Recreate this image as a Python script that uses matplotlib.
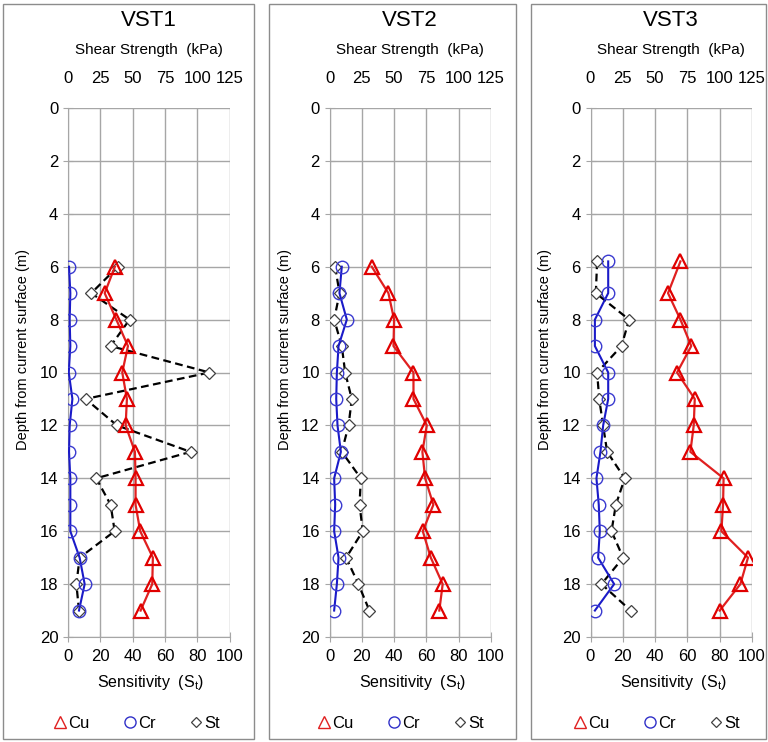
import matplotlib
matplotlib.use("Agg")
import matplotlib.pyplot as plt
from matplotlib.lines import Line2D
from matplotlib.patches import Rectangle

plt.rcParams['font.family'] = ['Liberation Sans', 'DejaVu Sans']
plt.rcParams['mathtext.fontset'] = 'custom'
plt.rcParams['mathtext.rm'] = 'Liberation Sans'
plt.rcParams['mathtext.it'] = 'Liberation Sans'

# Daten: Tiefe (m), Cu und Cr in kPa, St dimensionslos
titles = ["VST1", "VST2", "VST3"]

depth_1 = [6, 7, 8, 9, 10, 11, 12, 13, 14, 15, 16, 17, 18, 19]
cu_1 = [36.3, 28.4, 37.4, 46.4, 42.0, 45.6, 44.6, 51.8, 52.3, 52.3, 55.9, 65.7, 65.2, 56.2]
cr_1 = [0.8, 1.8, 1.3, 1.8, 0.6, 3.4, 1.3, 0.8, 1.8, 1.8, 1.8, 9.0, 12.9, 8.5]
st_1 = [30.9, 14.4, 38.1, 26.4, 87.6, 10.9, 30.3, 75.9, 17.5, 26.4, 28.9, 7.2, 5.2, 6.8]

depth_2 = [6, 7, 8, 9, 10, 11, 12, 13, 14, 15, 16, 17, 18, 19]
cu_2 = [32.7, 45.6, 50.0, 49.5, 65.0, 65.0, 75.3, 71.9, 74.0, 80.4, 72.2, 78.4, 87.6, 85.0]
cr_2 = [9.5, 7.7, 13.4, 7.0, 5.7, 5.2, 6.2, 8.8, 3.6, 4.4, 3.6, 7.0, 5.7, 3.6]
st_2 = [3.5, 6.2, 2.9, 7.6, 9.7, 13.8, 11.8, 7.6, 19.4, 18.6, 20.6, 10.3, 17.9, 24.7]

depth_3 = [5.8, 7, 8, 9, 10, 11, 12, 13, 14, 15, 16, 17, 18, 19]
cu_3 = [69.6, 60.0, 69.6, 78.0, 67.0, 80.7, 79.9, 77.3, 103.0, 102.6, 101.3, 121.9, 116.0, 100.0]
cr_3 = [13.7, 13.7, 3.4, 3.4, 13.7, 13.7, 9.8, 7.7, 4.6, 6.4, 7.2, 5.9, 18.3, 3.4]
st_3 = [4.1, 3.3, 23.9, 19.2, 4.1, 5.4, 7.8, 10.3, 21.2, 15.7, 13.0, 20.2, 6.8, 24.9]

depths = [depth_1, depth_2, depth_3]
cus = [cu_1, cu_2, cu_3]
crs = [cr_1, cr_2, cr_3]
sts = [st_1, st_2, st_3]

st_ticks = [0, 20, 40, 60, 80, 100]
kpa_ticks = [0, 25, 50, 75, 100, 125]
depth_ticks = list(range(0, 21, 2))

W, H = 768, 742
fig = plt.figure(figsize=(W / 100, H / 100), dpi=100)

ax_left = [68, 329.5, 590.5]
ax_w = 161.5
ax_top, ax_bot = 108, 637
frames = [(3, 254), (269, 516), (531, 766)]

grid_c = "#a6a6a6"


def px(x, y):
    return x / W, (H - y) / H


for i in range(3):
    # Rahmen um jedes Diagramm
    fx0, fx1 = frames[i]
    fig.patches.append(Rectangle((fx0 / W, 3 / H), (fx1 - fx0) / W, (738 - 3) / H,
                                 transform=fig.transFigure, fill=False,
                                 edgecolor="#8c8c8c", lw=1.0))

    ax = fig.add_axes([ax_left[i] / W, (H - ax_bot) / H, ax_w / W, (ax_bot - ax_top) / H])
    ax.set_xlim(0, 100)
    ax.set_ylim(20, 0)
    ax.set_xticks(st_ticks)
    ax.set_yticks(depth_ticks)
    ax.grid(True, color=grid_c, lw=1.0)
    ax.set_axisbelow(True)
    for s in ax.spines.values():
        s.set_visible(False)
    ax.spines['left'].set_visible(True)
    ax.spines['left'].set_color(grid_c)
    ax.spines['bottom'].set_visible(True)
    ax.spines['bottom'].set_color(grid_c)
    ax.tick_params(axis='both', labelsize=12, colors=grid_c, labelcolor='black',
                   direction='inout', length=7)
    ax.tick_params(axis='x', pad=5)

    ax.plot(sts[i], depths[i], color="black", ls=(0, (3.5, 2)), lw=1.6,
            marker="D", ms=6.5, mfc="white", mec="#404040", mew=0.9, zorder=3)

    ax2 = ax.twiny()
    ax2.set_xlim(0, 125)
    ax2.set_ylim(20, 0)
    ax2.set_xticks(kpa_ticks)
    for s in ax2.spines.values():
        s.set_visible(False)
    ax2.tick_params(axis='x', labelsize=12, length=0, pad=16)

    ax2.plot(crs[i], depths[i], color="#1a1ac8", lw=1.5, marker="o", ms=9,
             mfc="none", mec="#3a3ad0", mew=1.0, zorder=4)
    ax2.plot(cus[i], depths[i], color="#e02020", lw=1.6, marker="^", ms=10,
             mfc="none", mec="#e00000", mew=1.6, zorder=5)

    cxp = ax_left[i] + ax_w / 2
    fig.text(*px(cxp, 20), titles[i], fontsize=16, ha="center", va="center")
    fig.text(*px(cxp, 50), "Shear Strength  (kPa)", fontsize=11, ha="center", va="center")
    fig.text(*px(cxp + 2, 683), "Sensitivity  (S$_{\\mathregular{t}}$)", fontsize=11.5,
             ha="center", va="center")
    fig.text(*px(ax_left[i] - 45, 350), "Depth from current surface (m)", fontsize=10.5,
             ha="center", va="center", rotation=90)

    handles = [
        Line2D([], [], ls="none", marker="^", ms=8, mfc="none", mec="#e02020", mew=1.0),
        Line2D([], [], ls="none", marker="o", ms=8, mfc="none", mec="#3030c8", mew=1.0),
        Line2D([], [], ls="none", marker="D", ms=5.5, mfc="none", mec="#404040", mew=0.9),
    ]
    cx = ((fx0 + fx1) / 2 + 8) / W
    fig.legend(handles, ["Cu", "Cr", "St"], loc="center",
               bbox_to_anchor=(cx, (H - 723) / H), ncol=3, frameon=False,
               fontsize=12, handlelength=0.8, handletextpad=0.1, columnspacing=2.0)

fig.savefig("out.png", dpi=100)
